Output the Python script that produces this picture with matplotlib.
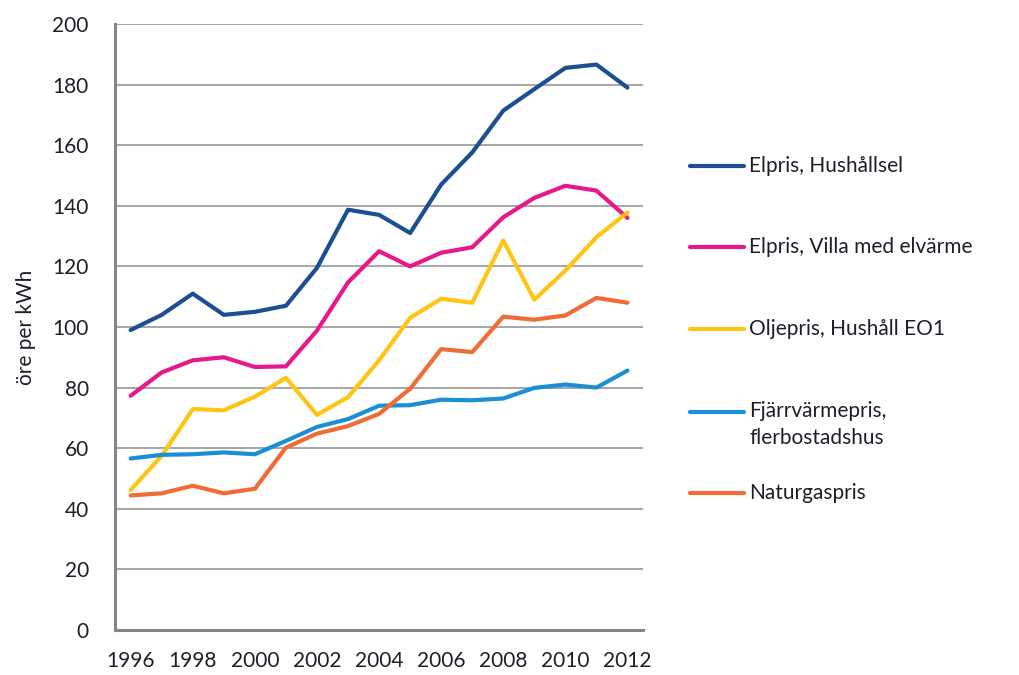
import matplotlib
matplotlib.use("Agg")
import matplotlib.pyplot as plt
from matplotlib.lines import Line2D

plt.rcParams['font.family'] = ['Lato', 'DejaVu Sans']

years = list(range(1996, 2013))

elpris_hushall = [99, 104, 111, 104, 105, 107, 119.5, 138.7, 137, 131, 147, 157.6, 171.4, 178.5, 185.5, 186.6, 179]
elpris_villa = [77.3, 85, 89, 90, 86.8, 87, 98.8, 114.7, 125, 120, 124.5, 126.3, 136.2, 142.6, 146.6, 145, 136]
oljepris = [46.2, 57.5, 72.9, 72.5, 77, 83.2, 71, 76.8, 89, 103, 109.3, 108, 128.5, 109, 118.6, 129.6, 137.8]
fjarrvarme = [56.6, 57.8, 58, 58.6, 58, 62.4, 67, 69.6, 74, 74.2, 76, 75.8, 76.4, 79.9, 81, 80, 85.6]
naturgas = [44.4, 45.1, 47.6, 45.1, 46.6, 60.2, 64.8, 67.3, 71.3, 79.6, 92.7, 91.7, 103.4, 102.4, 103.8, 109.6, 108]

labels = ["Elpris, Hushållsel", "Elpris, Villa med elvärme", "Oljepris, Hushåll EO1",
          "Fjärrvärmepris,\nflerbostadshus", "Naturgaspris"]
colors = ["#1c4f91", "#e5198b", "#ffc514", "#1b8fd6", "#f06c35"]
series = [elpris_hushall, elpris_villa, oljepris, fjarrvarme, naturgas]

txt = "#1f1f2a"

fig = plt.figure(figsize=(10.19, 6.75), dpi=100)
ax = fig.add_axes([0.113, 0.0667, 0.518, 0.8978])

for vals, c in zip(series, colors):
    ax.plot(years, vals, color=c, linewidth=3.0, solid_capstyle='round', solid_joinstyle='round', zorder=3)

ax.set_xlim(1995.5, 2012.5)
ax.set_ylim(0, 200)
ax.set_yticks(range(0, 201, 20))
ax.set_xticks(range(1996, 2013, 2))
ax.yaxis.grid(True, color="#a6a6a6", linewidth=1.4)
ax.set_axisbelow(True)
for s in ["top", "right"]:
    ax.spines[s].set_visible(False)
for s in ["left", "bottom"]:
    ax.spines[s].set_color("#868686")
    ax.spines[s].set_linewidth(2.2)
ax.tick_params(length=0, labelsize=15, colors=txt)
ax.tick_params(axis='y', pad=19)
ax.tick_params(axis='x', pad=15)
ax.set_ylabel("öre per kWh", fontsize=15, color=txt, labelpad=12)

# legend, drawn by hand to keep the Excel-like spacing
leg_y = [166, 247, 329, 412, 493]
for lab, c, y in zip(labels, colors, leg_y):
    yf = 1 - y / 675
    fig.add_artist(Line2D([690 / 1019, 744 / 1019], [yf, yf], color=c, linewidth=3.0,
                          solid_capstyle='round', transform=fig.transFigure))
    if "\n" in lab:
        fig.text(749 / 1019, yf + 11 / 675, lab, fontsize=15, color=txt, va='top', ha='left',
                 linespacing=1.45)
    else:
        fig.text(749 / 1019, yf, lab, fontsize=15, color=txt, va='center', ha='left')

fig.savefig("out.png", dpi=100)
